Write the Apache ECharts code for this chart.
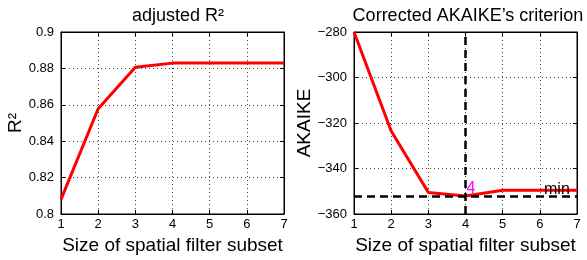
<!DOCTYPE html>
<html>
<head>
<meta charset="utf-8">
<script src="https://cdn.jsdelivr.net/npm/echarts@6/dist/echarts.min.js"></script>
<style>
  html, body { margin: 0; padding: 0; background: #fff; }
  #chart { width: 587px; height: 260px; }
</style>
</head>
<body>
<div id="chart"></div>
<script>
// filter subset sizes
var subsetSizes = [1, 2, 3, 4, 5, 6, 7];
// adjusted R2
var r2Values = [0.808, 0.8578, 0.8806, 0.8829, 0.8829, 0.8829, 0.8829];
// corrected AIC
var aicValues = [-280, -323.5, -350.5, -352.1, -349.6, -349.6, -349.6];
var aicMin = -352.1;
var aicMinSize = 4;

var FONT = 'Liberation Sans';

function toPairs(xs, ys) {
	var out = [];
	for (var i = 0; i < xs.length; i++) {
		out.push([xs[i], ys[i]]);
	}
	return out;
}

function xAxisOpt(idx) {
	return {
		type : 'value',
		gridIndex : idx,
		min : 1,
		max : 7,
		interval : 1,
		name : 'Size of spatial filter subset',
		nameLocation : 'middle',
		nameGap : 22,
		nameTextStyle : { fontFamily : FONT, fontSize : 19, color : '#000' },
		axisLine : { lineStyle : { color : '#000', width : 1 } },
		axisTick : { inside : true, length : 4, lineStyle : { color : '#000' } },
		axisLabel : { fontFamily : FONT, fontSize : 13, color : '#000', margin : 4 },
		splitLine : { show : true, lineStyle : { color : '#444', type : [1, 3], width : 1 } }
	};
}

// 上边框的刻度
function xTopOpt(idx) {
	return {
		type : 'value',
		gridIndex : idx,
		position : 'top',
		min : 1,
		max : 7,
		interval : 1,
		axisLine : { lineStyle : { color : '#000', width : 1 } },
		axisTick : { inside : true, length : 4, lineStyle : { color : '#000' } },
		axisLabel : { show : false },
		splitLine : { show : false }
	};
}

function yAxisOpt(idx, min, max, step, name, fmt, gap) {
	return {
		type : 'value',
		gridIndex : idx,
		min : min,
		max : max,
		interval : step,
		name : name,
		nameLocation : 'middle',
		nameGap : gap,
		nameTextStyle : { fontFamily : FONT, fontSize : 19, color : '#000' },
		axisLine : { show : true, lineStyle : { color : '#000', width : 1 } },
		axisTick : { show : true, inside : true, length : 4, lineStyle : { color : '#000' } },
		axisLabel : { fontFamily : FONT, fontSize : 13, color : '#000', margin : 7, formatter : fmt },
		splitLine : { show : true, lineStyle : { color : '#444', type : [1, 3], width : 1 } }
	};
}

// 右边框的刻度
function yRightOpt(idx, min, max, step) {
	return {
		type : 'value',
		gridIndex : idx,
		position : 'right',
		min : min,
		max : max,
		interval : step,
		axisLine : { show : true, lineStyle : { color : '#000', width : 1 } },
		axisTick : { show : true, inside : true, length : 4, lineStyle : { color : '#000' } },
		axisLabel : { show : false },
		splitLine : { show : false }
	};
}

var chart = echarts.init(document.getElementById('chart'));
chart.setOption({
	backgroundColor : '#fff',
	animation : false,
	title : [ {
		text : 'adjusted R²',
		left : 173,
		top : 2,
		textAlign : 'center',
		textStyle : { fontFamily : FONT, fontSize : 18, fontWeight : 'normal', color : '#000' }
	}, {
		text : 'Corrected AKAIKE\u2019s criterion',
		left : 463,
		top : 2,
		textAlign : 'center',
		textStyle : { fontFamily : FONT, fontSize : 18, fontWeight : 'normal', color : '#000' }
	} ],
	grid : [ {
		left : 61, top : 32, width : 223, height : 185,
		show : true, borderColor : '#000', borderWidth : 1, backgroundColor : '#fff'
	}, {
		left : 354, top : 32, width : 223, height : 185,
		show : true, borderColor : '#000', borderWidth : 1, backgroundColor : '#fff'
	} ],
	xAxis : [ xAxisOpt(0), xAxisOpt(1), xTopOpt(0), xTopOpt(1) ],
	yAxis : [
		yAxisOpt(0, 0.8, 0.9, 0.02, 'R²', function(v) {
			return String(Math.round(v * 100) / 100);
		}, 36),
		yAxisOpt(1, -360, -280, 20, 'AKAIKE', function(v) {
			return String(v).replace('-', '\u2212');
		}, 40),
		yRightOpt(0, 0.8, 0.9, 0.02),
		yRightOpt(1, -360, -280, 20)
	],
	series : [ {
		type : 'line',
		xAxisIndex : 0,
		yAxisIndex : 0,
		data : toPairs(subsetSizes, r2Values),
		symbol : 'none',
		lineStyle : { color : '#ff0000', width : 3 }
	}, {
		type : 'line',
		xAxisIndex : 1,
		yAxisIndex : 1,
		data : toPairs(subsetSizes, aicValues),
		symbol : 'none',
		z : 3,
		lineStyle : { color : '#ff0000', width : 3 },
		markLine : {
			silent : true,
			symbol : 'none',
			label : { show : false },
			lineStyle : { color : '#000', width : 2.5, type : [8, 5] },
			data : [ { yAxis : aicMin }, { xAxis : aicMinSize } ]
		},
		markPoint : {
			silent : true,
			symbol : 'circle',
			symbolSize : 0,
			data : [ {
				coord : [aicMinSize, aicMin],
				label : {
					show : true, formatter : '4', position : [1, 1],
					align : 'left', verticalAlign : 'bottom',
					fontFamily : FONT, fontSize : 16, color : '#ff00ff'
				}
			}, {
				coord : [6.14, aicMin],
				label : {
					show : true, formatter : 'min', position : [-1, 2],
					align : 'left', verticalAlign : 'bottom',
					fontFamily : FONT, fontSize : 16, color : '#000'
				}
			} ]
		}
	} ]
});
</script>
</body>
</html>
